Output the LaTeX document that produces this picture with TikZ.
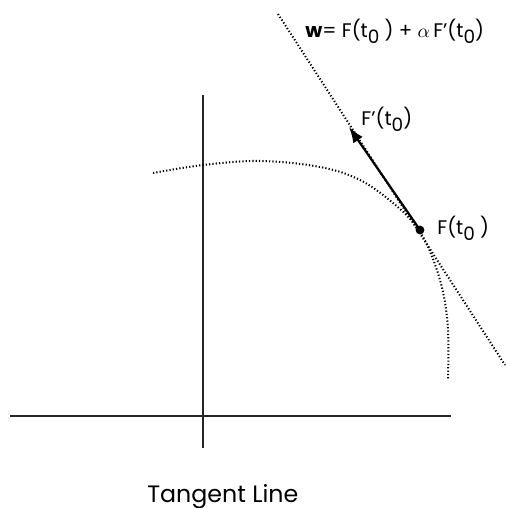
\documentclass[tikz,border=0pt]{standalone}
\usepackage{fontspec}
\setmainfont{Poppins}
\usetikzlibrary{arrows.meta}
\newcommand{\zsub}{\raisebox{-3.8pt}{\fontsize{10.5}{11}\selectfont 0}}
\tikzset{
  axis/.style={line width=0.85pt, black!85},
  dotline/.style={line width=1.15pt, dash pattern=on 0.7pt off 1.2pt},
  lbl/.style={font=\fontsize{11.2}{13}\selectfont, anchor=base west, inner sep=0pt},
  pt/.style={circle, fill=black, inner sep=0pt, minimum size=5pt},
}

\begin{document}
\begin{tikzpicture}[x=0.02cm, y=-0.02cm]
\useasboundingbox (0,0) rectangle (506,508);
% axes
\draw[axis] (203,95) -- (203,448);
\draw[axis] (10,416) -- (451,416);
% the curve
\draw[dotline] plot[smooth, tension=0.6] coordinates {(153,173) (203,165) (260,161) (320,167) (362,181) (400,209) (420,232) (433,259) (443,292) (448,330) (448,380)};
% point and tangent line
\node[pt] (ft0) at (420,230) {};
\coordinate (lnA) at (278,14);
\coordinate (lnB) at (505,365);
\draw[dotline] (lnA) -- (lnB);
\coordinate (dtip) at (349,127);
\draw[line width=1.25pt, -{Latex[length=9pt,width=6.5pt]}] (ft0.center) -- (dtip);
% labels
\node[lbl] (wlbl) at (305,37) {\textbf{w}= F(t\zsub\ ) + $\alpha$\,F'(t\zsub)};
\node[lbl] (dlbl) at (361,125) {F'(t\zsub)};
\node[lbl] (flbl) at (437,234) {F(t\zsub\ )};
\node[lbl, font=\fontsize{13.5}{16}\selectfont] (title) at (147,502) {Tangent Line};
\end{tikzpicture}
\end{document}
